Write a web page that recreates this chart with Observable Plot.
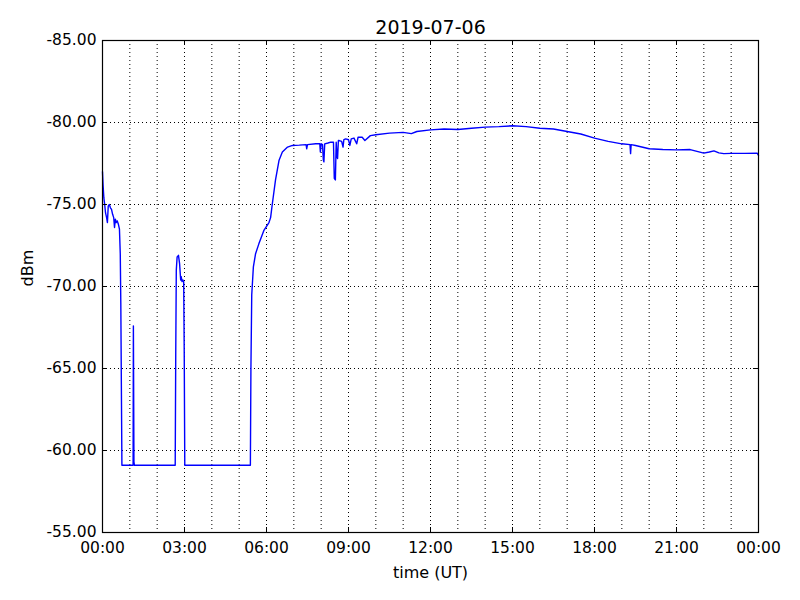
<!DOCTYPE html>
<html>
<head>
<meta charset="utf-8">
<script src="https://cdn.jsdelivr.net/npm/d3@7"></script>
<script src="https://cdn.jsdelivr.net/npm/@observablehq/plot@0.6"></script>
<style>
  html, body { margin: 0; padding: 0; background: #fff; }
  svg { display: block; }
</style>
</head>
<body>
<div id="chart"></div>
<script>
const title = "2019-07-06";
const xLabel = "time (UT)";
const yLabel = "dBm";

const hours = [
  0, 0.02, 0.05, 0.08, 0.11, 0.15, 0.18, 0.21, 0.25, 0.29,
  0.33, 0.37, 0.41, 0.44, 0.47, 0.5, 0.54, 0.58, 0.62, 0.65,
  0.67, 0.69, 0.71, 0.73, 1.12, 1.13, 1.15, 1.17, 2.66, 2.68,
  2.70, 2.73, 2.78, 2.82, 2.86, 2.88, 2.91, 2.94, 2.97, 2.99,
  3.01, 5.41, 5.43, 5.46, 5.52, 5.6, 5.72, 5.9, 6.09, 6.15,
  6.21, 6.33, 6.46, 6.58, 6.77, 6.95, 7.2, 7.45, 7.47, 7.5,
  7.8, 7.95, 7.97, 8.0, 8.05, 8.08, 8.1, 8.13, 8.25, 8.35,
  8.45, 8.48, 8.52, 8.55, 8.58, 8.6, 8.63, 8.66, 8.75, 8.8,
  8.83, 8.9, 9.0, 9.05, 9.1, 9.2, 9.3, 9.35, 9.5, 9.6,
  9.8, 10.0, 10.5, 11.0, 11.3, 11.5, 12.0, 12.5, 13.0, 13.5,
  14.0, 14.5, 15.0, 15.5, 16.0, 16.5, 17.0, 17.5, 18.0, 18.5,
  19.0, 19.3, 19.32, 19.34, 19.5, 20.0, 20.5, 21.0, 21.5, 22.0,
  22.2, 22.37, 22.55, 22.73, 23.0, 23.5, 23.95, 24.0
];
const dbm = [
  -77.0, -76.2, -75.4, -75.0, -74.5, -74.2, -73.9, -74.9, -75.0, -74.8,
  -74.7, -74.4, -74.2, -73.6, -74.1, -73.9, -74.0, -73.8, -73.5, -72.0,
  -69.0, -64.0, -59.1, -59.1, -59.1, -67.6, -59.3, -59.1, -59.1, -66.0,
  -71.0, -71.8, -71.9, -71.4, -70.4, -70.6, -70.3, -70.4, -70.3, -66.0,
  -59.1, -59.1, -65.0, -69.5, -71.2, -72.0, -72.6, -73.4, -73.9, -74.2,
  -75.0, -76.5, -77.7, -78.2, -78.5, -78.6, -78.62, -78.65, -78.4, -78.65,
  -78.7, -78.7, -78.2, -78.7, -78.65, -77.7, -77.6, -78.7, -78.75, -78.8,
  -78.8, -76.6, -76.5, -78.8, -77.9, -77.8, -78.9, -78.9, -78.85, -78.5,
  -78.95, -79.0, -78.95, -78.6, -79.0, -79.05, -78.7, -79.1, -79.1, -78.9,
  -79.2, -79.25, -79.35, -79.4, -79.32, -79.45, -79.55, -79.6, -79.57, -79.65,
  -79.72, -79.75, -79.8, -79.75, -79.65, -79.6, -79.45, -79.3, -79.05, -78.85,
  -78.7, -78.65, -78.1, -78.65, -78.6, -78.4, -78.35, -78.33, -78.35, -78.13,
  -78.2, -78.27, -78.15, -78.1, -78.12, -78.12, -78.13, -78.0
];

const xTicks = [0, 3, 6, 9, 12, 15, 18, 21, 24];
const xTickLabels = ["00:00", "03:00", "06:00", "09:00", "12:00", "15:00", "18:00", "21:00", "00:00"];
const xGrid = d3.range(1, 24);
const yTicks = [-85, -80, -75, -70, -65, -60, -55];
const yGrid = [-80, -75, -70, -65, -60];

const data = hours.map((h, i) => ({h, v: dbm[i]}));
const innerW = 800 - 102 - 42;
const innerH = 600 - 40 - 68;
const dots = {stroke: "black", strokeWidth: 1, strokeDasharray: "1,3"};

const chart = Plot.plot({
  width: 800,
  height: 600,
  marginLeft: 102,
  marginRight: 42,
  marginTop: 40,
  marginBottom: 68,
  style: {fontFamily: "'DejaVu Sans', sans-serif", fontSize: "15.5px", color: "black", background: "white"},
  x: {domain: [0, 24]},
  y: {domain: [-85, -55], reverse: true},
  marks: [
    Plot.ruleX(xGrid, dots),
    Plot.ruleY(yGrid, dots),
    Plot.line(data, {x: "h", y: "v", stroke: "#0000ff", strokeWidth: 1.4}),
    Plot.frame({stroke: "black", strokeWidth: 1.2}),
    Plot.tickX(xTicks, {insetTop: innerH - 5, stroke: "black"}),
    Plot.tickX(xTicks, {insetBottom: innerH - 5, stroke: "black"}),
    Plot.tickY(yTicks, {insetRight: innerW - 5, stroke: "black"}),
    Plot.tickY(yTicks, {insetLeft: innerW - 5, stroke: "black"}),
    Plot.axisX(xTicks, {tickSize: 0, tickPadding: 9, tickFormat: (d, i) => xTickLabels[i], label: null, fontSize: 15.5}),
    Plot.axisY(yTicks, {tickSize: 0, tickPadding: 6, tickFormat: d => d.toFixed(2), label: null, fontSize: 15.5}),
    Plot.text([title], {frameAnchor: "top", lineAnchor: "middle", dy: -13, fontSize: 19, fill: "black"}),
    Plot.text([xLabel], {frameAnchor: "bottom", lineAnchor: "middle", dy: 40, fontSize: 16, fill: "black"}),
    Plot.text([yLabel], {frameAnchor: "left", dx: -75, rotate: -90, fontSize: 16, fill: "black"})
  ]
});
document.getElementById("chart").appendChild(chart);
</script>
</body>
</html>
